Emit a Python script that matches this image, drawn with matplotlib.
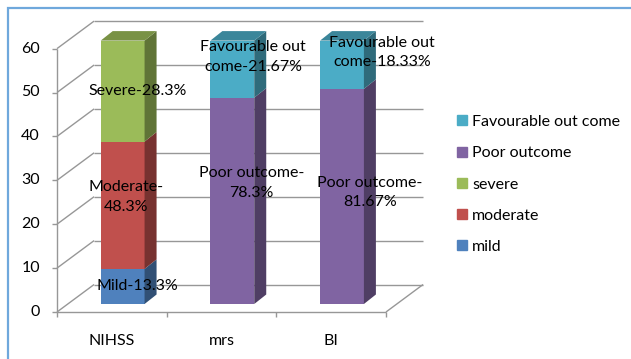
import numpy as np
import matplotlib
matplotlib.use("Agg")
import matplotlib.pyplot as plt
import matplotlib.patches as mpatches
import matplotlib.colors as mcolors

plt.rcParams["font.family"] = ["Lato", "DejaVu Sans"]

# Data
categories = ["NIHSS", "mrs", "BI"]
mild = [8, 0, 0]
moderate = [29, 0, 0]
severe = [23, 0, 0]
poor = [0, 47, 49]
favourable = [0, 13, 11]
series_names = ["mild", "moderate", "severe", "Poor outcome", "Favourable out come"]
series_values = [mild, moderate, severe, poor, favourable]
series_colors = ["#4F81BD", "#C0504D", "#9BBB59", "#8064A2", "#4BACC6"]
bar_labels = {
    (0, 0): "Mild-13.3%",
    (0, 1): "Moderate-\n48.3%",
    (0, 2): "Severe-28.3%",
    (1, 3): "Poor outcome-\n78.3%",
    (1, 4): "Favourable out\ncome-21.67%",
    (2, 3): "Poor outcome-\n81.67%",
    (2, 4): "Favourable out\ncome-18.33%",
}
yticks = [0, 10, 20, 30, 40, 50, 60]

# label nudges in pixels (x right, y up)
label_nudge = {
    (0, 0): (15, 0), (0, 1): (3, 8), (0, 2): (15, 0),
    (1, 3): (19, 18), (1, 4): (21, 12),
    (2, 3): (28, 4), (2, 4): (40, 12),
}

W, H = 631, 359
fig = plt.figure(figsize=(W / 100, H / 100), dpi=100)
ax = fig.add_axes([67.8 / W, (H - 304) / H, 329 / W, 263.4 / H])
ax.set_xlim(-0.5, 2.5)
ax.set_ylim(0, 60)
ax.axis("off")

BACK = np.array([26.3, 19.5])
FRONT = np.array([-10.8, -8.0])
SIDE = np.array([12.0, 9.5])
GRID = "#979797"
FS = 11.5


def shift(x, y, off=(0, 0)):
    p = ax.transData.transform((x, y)) + np.asarray(off)
    return ax.transData.inverted().transform(p)


def line(p0, p1, **kw):
    ax.plot([p0[0], p1[0]], [p0[1], p1[1]], color=GRID, lw=1.0,
            clip_on=False, solid_capstyle="butt", **kw)


x0, x1 = -0.5, 2.5
# walls and gridlines
for v in yticks:
    line(shift(x0, v, BACK), shift(x1, v, BACK), zorder=1)
    line(shift(x0, v, FRONT), shift(x0, v, BACK), zorder=1)
    line(shift(x0, v, FRONT), shift(x0, v, FRONT + (-5, 0)), zorder=1)
    p = shift(x0, v, FRONT + (-17, 0))
    ax.text(p[0], p[1], str(v), ha="right", va="center", fontsize=FS)
line(shift(x0, 0, FRONT), shift(x0, 60, FRONT), zorder=1)
line(shift(x0, 0, FRONT), shift(x1, 0, FRONT), zorder=1)
line(shift(x1, 0, FRONT), shift(x1, 0, BACK), zorder=1)
for b in [-0.5, 0.5, 1.5, 2.5]:
    line(shift(b, 0, FRONT), shift(b, 0, FRONT + (0, -5)), zorder=1)
for i, c in enumerate(categories):
    p = shift(i, 0, FRONT + (0, -29))
    ax.text(p[0], p[1], c, ha="center", va="center", fontsize=FS)


def darker(c, f):
    r, g, b = mcolors.to_rgb(c)
    return (r * f, g * f, b * f)


width = 0.4
z = 3
for i in range(len(categories)):
    bottom = 0
    segs = [(k, series_values[k][i]) for k in range(len(series_values))
            if series_values[k][i] > 0]
    for n, (k, v) in enumerate(segs):
        col = series_colors[k]
        ax.bar(i, v, width, bottom=bottom, color=col, zorder=z, linewidth=0)
        xr = i + width / 2
        xl = i - width / 2
        side = [(xr, bottom), (xr, bottom + v),
                tuple(shift(xr, bottom + v, SIDE)), tuple(shift(xr, bottom, SIDE))]
        ax.add_patch(mpatches.Polygon(side, closed=True, facecolor=darker(col, 0.62),
                                      edgecolor="none", zorder=z, clip_on=False))
        if n == len(segs) - 1:
            top = [(xl, bottom + v), (xr, bottom + v),
                   tuple(shift(xr, bottom + v, SIDE)), tuple(shift(xl, bottom + v, SIDE))]
            ax.add_patch(mpatches.Polygon(top, closed=True, facecolor=darker(col, 0.78),
                                          edgecolor="none", zorder=z, clip_on=False))
        key = (i, k)
        if key in bar_labels:
            p = shift(i, bottom + v / 2, label_nudge[key])
            ax.text(p[0], p[1], bar_labels[key], ha="center", va="center",
                    fontsize=FS, zorder=10, linespacing=1.5)
        bottom += v
        z += 1

# legend
handles = [mpatches.Patch(color=series_colors[k], label=series_names[k])
           for k in [4, 3, 2, 1, 0]]
fig.legend(handles=handles, loc="upper left", bbox_to_anchor=(457 / W, 1 - 115 / H),
           frameon=False, fontsize=FS, handlelength=0.6, handleheight=0.6,
           handletextpad=0.35, labelspacing=1.08, borderaxespad=0, borderpad=0)

# outer frame
fig.add_artist(mpatches.Rectangle((7.5 / W, -0.1), 1.2, (H - 7.5) / H + 0.1,
                                  transform=fig.transFigure, fill=False,
                                  edgecolor="#6FA8DC", lw=1.6))

fig.savefig("out.png", dpi=100)
